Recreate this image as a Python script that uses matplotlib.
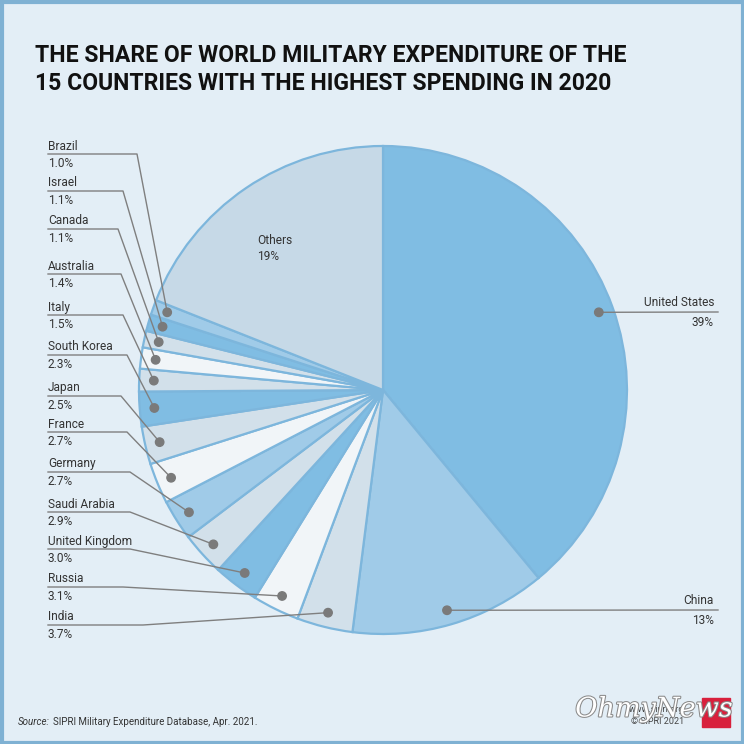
import numpy as np
import matplotlib
matplotlib.use("Agg")
import matplotlib.pyplot as plt
from matplotlib.patches import Rectangle, Circle
import matplotlib.patheffects as pe

# data (share of world military expenditure 2020, %)
countries = ["United States", "China", "India", "Russia", "United Kingdom",
             "Saudi Arabia", "Germany", "France", "Japan", "South Korea",
             "Italy", "Australia", "Canada", "Israel", "Brazil", "Others"]
shares = [39, 13, 3.7, 3.1, 3.0, 2.9, 2.7, 2.7, 2.5, 2.3, 1.5, 1.4, 1.1, 1.1, 1.0, 19]
share_labels = ["39%", "13%", "3.7%", "3.1%", "3.0%", "2.9%", "2.7%", "2.7%",
                "2.5%", "2.3%", "1.5%", "1.4%", "1.1%", "1.1%", "1.0%", "19%"]

MID = "#80bde3"
LIGHT = "#a0cbe8"
GREY = "#d2e0ea"
WHITE = "#f1f5f8"
colors = [MID, LIGHT, GREY, WHITE, MID, GREY, LIGHT, WHITE, GREY, MID,
          GREY, WHITE, GREY, MID, LIGHT, "#c6d9e7"]

BG = "#e3eef6"
W = H = 744
CX, CY, R = 383, 390, 244   # pixel coords from top-left


def py(y):
    """pixel y (from top) -> data y"""
    return H - y


fig = plt.figure(figsize=(7.44, 7.44), dpi=100)
fig.patch.set_facecolor(BG)
ax = fig.add_axes([0, 0, 1, 1])

wedges, _ = ax.pie(shares, colors=colors, startangle=90, counterclock=False,
                   center=(CX, py(CY)), radius=R, frame=True,
                   wedgeprops=dict(edgecolor="#7db6dc", linewidth=1.6))
ax.set_xlim(0, W)
ax.set_ylim(0, H)
ax.set_aspect("equal")
ax.axis("off")

# dot positions at slice mid angles
cum = np.cumsum([0] + shares[:-1])
mid_deg = 90 - 360 * (cum + np.array(shares) / 2) / 100
dots = [(CX + 0.94 * R * np.cos(np.radians(a)), py(CY) + 0.94 * R * np.sin(np.radians(a)))
        for a in mid_deg]

txt = dict(fontsize=8.6, color="#333333", family="Roboto")
line_kw = dict(color="#7f7f7f", linewidth=1.0, zorder=5)

# left side labels: (horizontal line y in px, elbow x in px)
left_layout = {
    "Brazil": (154, 137), "Israel": (191, 123), "Canada": (229, 118),
    "Australia": (274, 121), "Italy": (315, 123), "South Korea": (355, 127),
    "Japan": (396, 121), "France": (432, 127), "Germany": (472, 130),
    "Saudi Arabia": (512, 130), "United Kingdom": (549, 130),
    "Russia": (587, 123), "India": (625, 143),
}
for i, name in enumerate(countries):
    if name not in left_layout:
        continue
    ly, ex = left_layout[name]
    dx, dy = dots[i]
    ax.plot([48, ex, dx], [py(ly), py(ly), dy], **line_kw)
    ax.add_patch(Circle((dx, dy), 4.2, color="#7a7a7a", zorder=6))
    ax.text(48, py(ly - 8), name, ha="left", va="center", **txt)
    ax.text(48, py(ly + 9.5), share_labels[i], ha="left", va="center", **txt)

# right side labels
for i, ly in [(0, 312), (1, 610)]:
    dx, dy = dots[i]
    ax.plot([dx, 718], [dy, py(ly)], **line_kw)
    ax.add_patch(Circle((dx, dy), 4.2, color="#7a7a7a", zorder=6))
    ax.text(714, py(ly - 9), countries[i], ha="right", va="center", **txt)
    ax.text(714, py(ly + 11), share_labels[i], ha="right", va="center", **txt)

ax.text(257, py(241), countries[-1], ha="left", va="center", **txt)
ax.text(257, py(256), share_labels[-1], ha="left", va="center", **txt)

# title
title_kw = dict(ha="left", va="center", fontsize=16.6, fontweight="bold",
                family="Roboto", color="#111111")
ax.text(35, py(56), "THE SHARE OF WORLD MILITARY EXPENDITURE OF THE", **title_kw)
ax.text(35, py(83), "15 COUNTRIES WITH THE HIGHEST SPENDING IN 2020", **title_kw)

# source
src = ax.text(18, py(722), "Source:", ha="left", va="center", fontsize=7,
              style="italic", family="Roboto", color="#333333")
ax.annotate("SIPRI Military Expenditure Database, Apr. 2021.", xy=(1, 0.5),
            xycoords=src, xytext=(2.5, 0), textcoords="offset points",
            ha="left", va="center", fontsize=7, family="Roboto", color="#333333")

# sipri credit + logo
ax.text(684, py(710), "www.sipri.org", ha="right", va="center", fontsize=6.5,
        family="Roboto", color="#444444")
ax.text(684, py(722), "\u00a9 SIPRI 2021", ha="right", va="center", fontsize=6.5,
        family="Roboto", color="#444444")
ax.add_patch(Rectangle((702, py(727)), 28, 29, color="#d8203c", zorder=6))
ax.text(733, py(709), "OhmyNews", ha="right", va="center", fontsize=19.5,
        style="italic", family="DejaVu Serif", color="white", zorder=7,
        path_effects=[pe.withStroke(linewidth=1.5, foreground="#8a8a8a")])

# frame
ax.add_patch(Rectangle((1.5, 1.5), W - 3, H - 3, fill=False, edgecolor="#7fb1d3",
                       linewidth=3, zorder=10))

fig.savefig("out.png", dpi=100, facecolor=BG)
